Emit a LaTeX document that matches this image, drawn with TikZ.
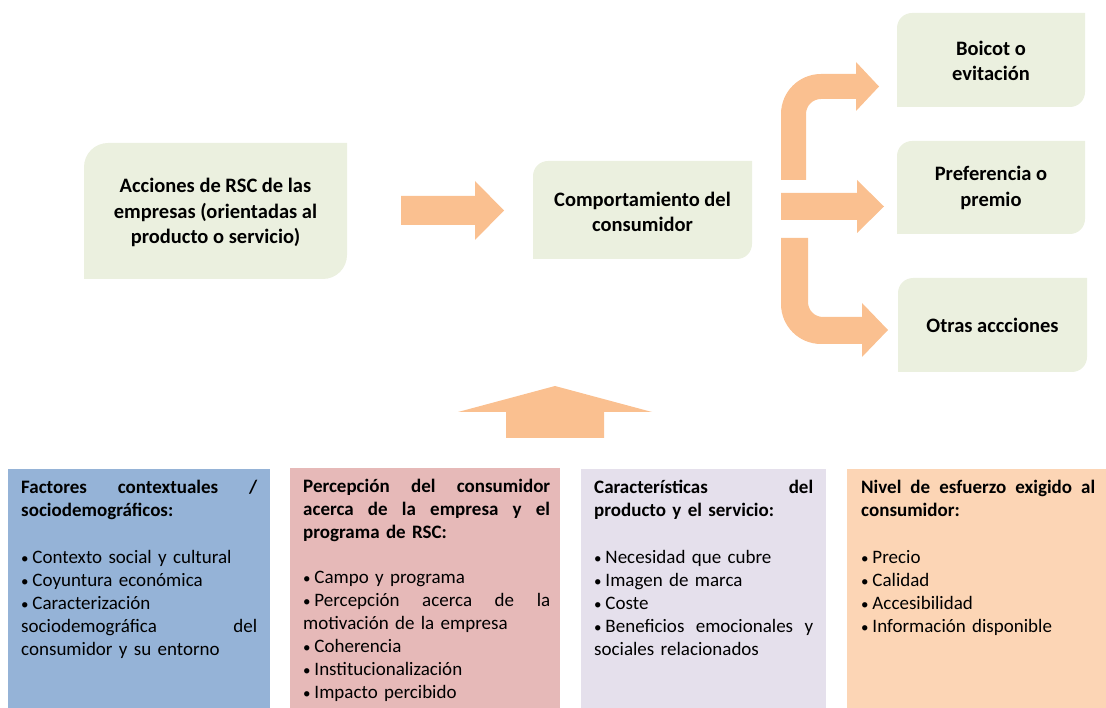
\documentclass[tikz,border=0pt]{standalone}
\usepackage{fontspec}
\setmainfont{Carlito}
\setlength{\parindent}{0pt}
\definecolor{boxgreen}{HTML}{EBF0DF}
\definecolor{arrowc}{HTML}{FAC090}
\definecolor{bblue}{HTML}{95B3D7}
\definecolor{bpink}{HTML}{E6B9B8}
\definecolor{blav}{HTML}{E5E0EC}
\definecolor{bpeach}{HTML}{FCD5B5}
\newcommand\jl[2]{\leavevmode\hbox to #1{#2}}
\newcommand\hf{\hspace{0pt plus 1fill}}
\newcommand\bul{{\fontsize{15}{15}\selectfont\textbullet}\hspace{0.2em}}
\newcommand\gbox[5]{%
  \fill[boxgreen] (#1,#4) [rounded corners=#5] -- (#1,#2) [sharp corners] -- (#3,#2)
    [rounded corners=#5] -- (#3,#4) [sharp corners] -- cycle;}
\begin{document}
\begin{tikzpicture}[x=1pt,y=-1pt,
  toptext/.style={font=\fontsize{20.5}{25.5}\selectfont\bfseries, align=center, inner sep=0pt},
  bottext/.style={font=\fontsize{19}{23}\selectfont, align=left, anchor=north west, inner sep=0pt}]
\useasboundingbox (0,0) rectangle (1106,708);

% top boxes
\gbox{84}{143}{347}{279}{24pt}
\node[toptext] (acc) at (215.5,212.5) {Acciones de RSC de las\\empresas (orientadas al\\producto o servicio)};
\gbox{533}{161}{752}{259}{15pt}
\node[toptext] (comp) at (642.5,212) {Comportamiento del\\consumidor};
\gbox{897}{13}{1085}{107}{15pt}
\node[toptext] (boi) at (991,61) {Boicot o\\evitación};
\gbox{897}{141}{1085}{234}{15pt}
\node[toptext] (pref) at (991,188) {Preferencia o\\premio};
\gbox{898}{278}{1087}{372}{15pt}
\node[toptext] (otr) at (992.5,325) {Otras accciones};

% block arrows
\fill[arrowc] (401,196) -- (475,196) -- (475,181) -- (504,210.5) -- (475,240) -- (475,225) -- (401,225) -- cycle;
\fill[arrowc] (506,438) -- (506,412) -- (458,412) -- (555,386) -- (652,412) -- (604,412) -- (604,438) -- cycle;
\fill[arrowc] (781,180) [rounded corners=40pt] -- (781,74) [sharp corners] -- (856,74) -- (856,62) -- (879,86.5) -- (856,111) -- (856,99) [rounded corners=15pt] -- (806,99) [sharp corners] -- (806,180) -- cycle;
\fill[arrowc] (781,193) -- (857,193) -- (857,180) -- (884,206.5) -- (857,233) -- (857,220) -- (781,220) -- cycle;
\fill[arrowc] (781,238) -- (808,238) [rounded corners=15pt] -- (808,317) [sharp corners] -- (862,317) -- (862,303) -- (888,330) -- (862,357) -- (862,344) [rounded corners=40pt] -- (781,344) [sharp corners] -- cycle;

% bottom panels
\fill[bblue] (8,469) rectangle (270,708);
\fill[bpink] (290,468) rectangle (560,708);
\fill[blav] (581,469) rectangle (826,708);
\fill[bpeach] (847,469) rectangle (1106,708);

\node[bottext, text width=236pt] (fac) at (21,477) {\strut\textbf{\jl{236pt}{Factores\hf contextuales\hf /}}\\
\textbf{sociodemográficos:}\\[24pt]
\bul Contexto social y cultural\\
\bul Coyuntura económica\\
\bul Caracterización\\
\jl{236pt}{sociodemográfica\hf del}\\
consumidor y su entorno};

\node[bottext, text width=247pt] (per) at (303,476) {\strut\textbf{\jl{247pt}{Percepción\hf del\hf consumidor}}\\
\textbf{\jl{247pt}{acerca\hf de\hf la\hf empresa\hf y\hf el}}\\
\textbf{programa de RSC:}\\[22pt]
\bul Campo y programa\\
\jl{247pt}{\bul Percepción\hf acerca\hf de\hf la}\\
motivación de la empresa\\
\bul Coherencia\\
\bul Institucionalización\\
\bul Impacto percibido};

\node[bottext, text width=219pt] (car) at (594,477) {\strut\textbf{\jl{219pt}{Características\hf del}}\\
\textbf{producto y el servicio:}\\[24pt]
\bul Necesidad que cubre\\
\bul Imagen de marca\\
\bul Coste\\
\jl{219pt}{\bul Beneficios\hf emocionales\hf y}\\
sociales relacionados};

\node[bottext, text width=234pt] (niv) at (861,477) {\strut\textbf{\jl{234pt}{Nivel\hf de\hf esfuerzo\hf exigido\hf al}}\\
\textbf{consumidor:}\\[24pt]
\bul Precio\\
\bul Calidad\\
\bul Accesibilidad\\
\bul Información disponible};
\end{tikzpicture}
\end{document}
